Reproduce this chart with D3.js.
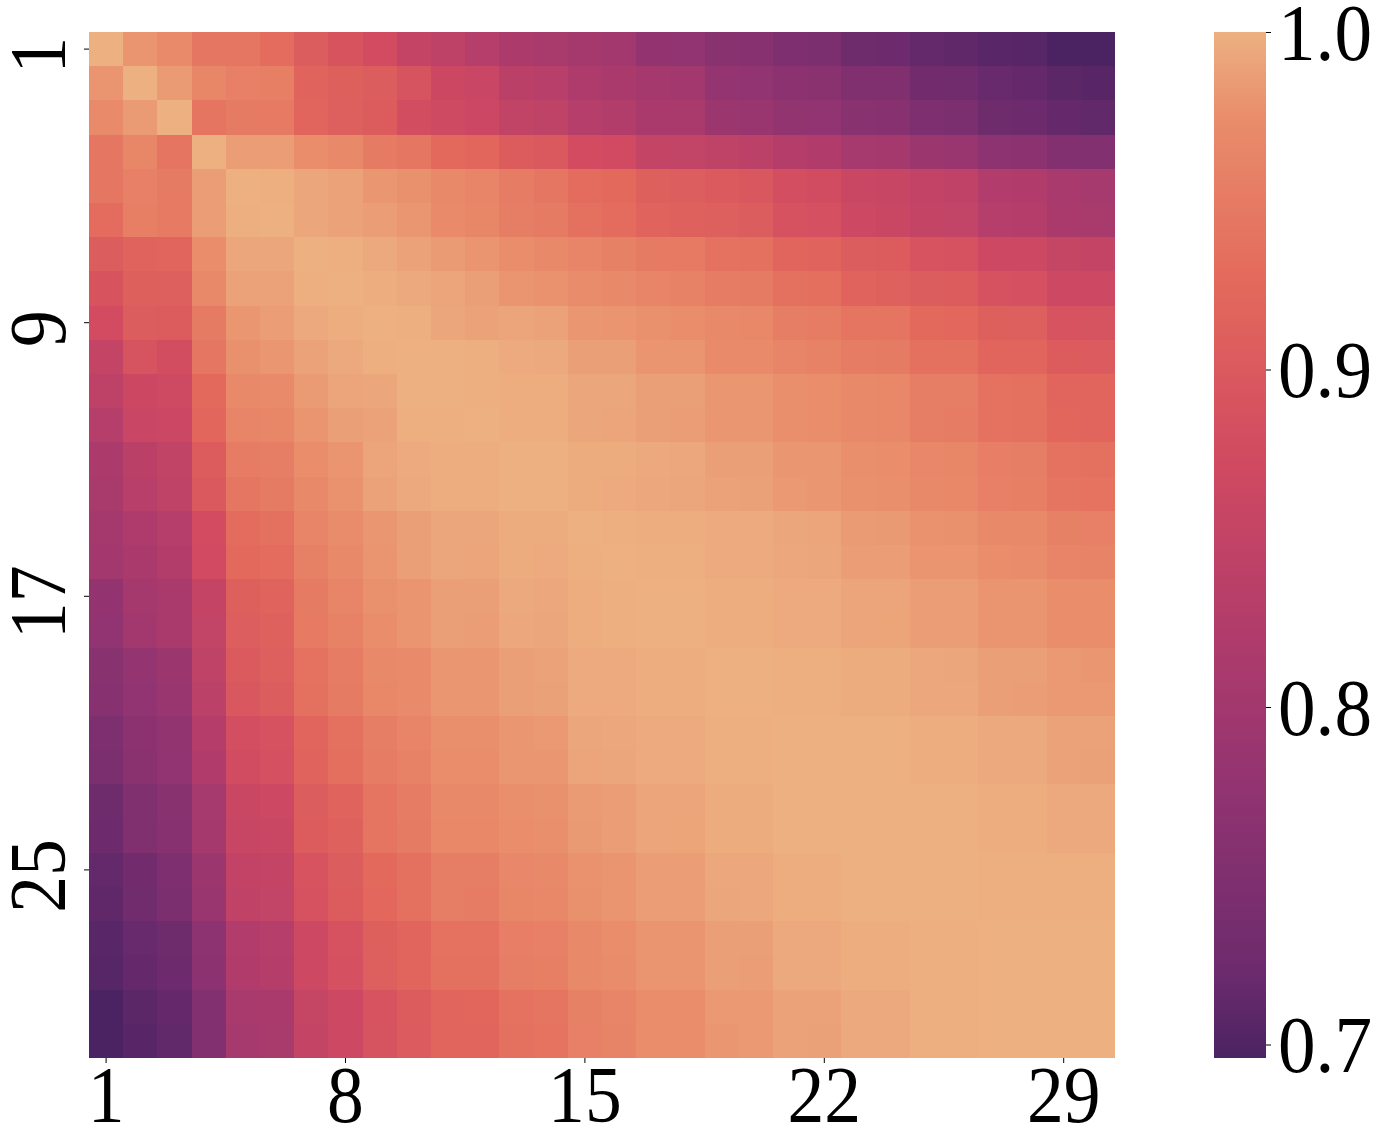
<!DOCTYPE html>
<html>
<head>
<meta charset="utf-8">
<style>
html,body{margin:0;padding:0;background:#fff;overflow:hidden}
text{font-family:"Liberation Serif","Times New Roman",serif;fill:#000}
</style>
<script src="https://cdn.jsdelivr.net/npm/d3@7/dist/d3.min.js"></script>
</head>
<body>
<svg id="chart" width="1384" height="1129"></svg>
<script>
// Upper triangle of the symmetric matrix: each row starts at its diagonal cell.
const row01=[1,.98,.972,.945,.943,.93,.905,.89,.875,.852,.843,.83,.815,.81,.805,.80,.778,.776,.764,.762,.747,.745,.726,.723,.715,.712,.707,.705,.696,.696];
const row02=[1,.985,.965,.957,.955,.915,.91,.905,.888,.866,.86,.838,.833,.818,.812,.805,.80,.78,.775,.767,.765,.752,.75,.73,.728,.718,.716,.708,.706];
const row03=[1,.94,.95,.948,.917,.908,.903,.878,.868,.864,.848,.845,.83,.826,.814,.812,.79,.787,.777,.775,.763,.76,.746,.744,.725,.723,.716,.714];
const row04=[1,.987,.986,.975,.97,.95,.945,.925,.92,.903,.898,.875,.873,.853,.85,.845,.84,.827,.823,.807,.805,.79,.787,.769,.767,.755,.753];
const row05=[1,.999,.993,.99,.982,.977,.97,.963,.952,.945,.93,.925,.91,.907,.9,.897,.88,.877,.861,.858,.849,.846,.824,.822,.809,.806];
const row06=[1,.993,.99,.986,.982,.972,.966,.953,.95,.935,.93,.915,.913,.908,.905,.887,.884,.865,.862,.853,.85,.83,.828,.813,.81];
const row07=[1,.999,.995,.99,.985,.98,.975,.97,.962,.958,.95,.948,.937,.935,.918,.916,.905,.903,.889,.886,.867,.865,.854,.852];
const row08=[1,.998,.995,.992,.988,.98,.978,.973,.97,.962,.96,.952,.95,.935,.933,.915,.913,.905,.903,.886,.884,.867,.865];
const row09=[1,.999,.993,.99,.992,.99,.982,.98,.977,.975,.97,.968,.953,.952,.942,.94,.925,.923,.91,.908,.889,.888];
const row10=[1,1,.999,.996,.995,.988,.988,.98,.98,.972,.972,.962,.96,.952,.95,.935,.935,.918,.917,.903,.902];
const row11=[1,.999,.998,.998,.993,.993,.988,.988,.982,.982,.976,.975,.97,.968,.953,.953,.938,.936,.918,.917];
const row12=[1,.998,.998,.993,.992,.988,.987,.982,.981,.976,.975,.969,.968,.953,.952,.938,.936,.92,.918];
const row13=[1,1,.997,.997,.995,.994,.988,.988,.982,.982,.976,.975,.967,.966,.954,.953,.937,.936];
const row14=[1,.997,.996,.994,.993,.99,.989,.983,.982,.977,.976,.969,.968,.957,.956,.94,.939];
const row15=[1,.999,.998,.998,.996,.996,.993,.992,.985,.984,.978,.977,.97,.97,.958,.957];
const row16=[1,.999,.999,.996,.996,.994,.993,.986,.986,.98,.98,.974,.973,.962,.961];
const row17=[1,1,.998,.998,.996,.996,.992,.992,.987,.986,.98,.98,.975,.974];
const row18=[1,.998,.998,.996,.996,.992,.991,.986,.986,.98,.98,.975,.975];
const row19=[1,1,.999,.999,.997,.997,.994,.993,.988,.988,.983,.982];
const row20=[1,.999,.999,.997,.997,.994,.994,.988,.987,.983,.983];
const row21=[1,1,1,1,.998,.998,.995,.995,.99,.99];
const row22=[1,1,1,.998,.998,.995,.995,.99,.989];
const row23=[1,1,1,1,.998,.998,.995,.995];
const row24=[1,1,1,.998,.998,.995,.995];
const row25=[1,1,.999,.999,.999,.999];
const row26=[1,.999,.999,.999,.999];
const row27=[1,1,1,1];
const row28=[1,1,1];
const row29=[1,1];
const row30=[1];
const upperRows=[row01,row02,row03,row04,row05,row06,row07,row08,row09,row10,row11,row12,row13,row14,row15,row16,row17,row18,row19,row20,row21,row22,row23,row24,row25,row26,row27,row28,row29,row30];

const categories=d3.range(1,31);
const xTickValues=[1,8,15,22,29];
const yTickValues=[1,9,17,25];
const colorbarTicks=[0.7,0.8,0.9,1.0];
const valueMin=0.696, valueMax=1.0;
const flareColors=["#edb081","#e98d6b","#e3685c","#d14a61","#b13c6b","#8f3371","#6c2b6d","#4b2362"];
const flarePositions=[0,1/12,1/4,5/12,7/12,3/4,11/12,1];

const svg=d3.select("#chart");
const left=89,right=1115,top_=32,bottom=1058;
const barLeft=1214,barRight=1266;
const fontSize=80;
const squeeze=0.92;

const x=d3.scaleBand().domain(categories).range([left,right]).padding(0);
const y=d3.scaleBand().domain(categories).range([top_,bottom]).padding(0);
const position=d3.scaleLinear().domain([valueMax,valueMin]).range([0,1]);
const color=d3.scaleLinear().domain(flarePositions).range(flareColors).interpolate(d3.interpolateRgb);
const fill=v=>color(position(v));
const barY=d3.scaleLinear().domain([valueMin,valueMax]).range([bottom,top_]);

const cells=[];
upperRows.forEach((vals,i)=>vals.forEach((v,k)=>{
  const j=i+k;
  cells.push({r:categories[i],c:categories[j],v});
  if(k>0) cells.push({r:categories[j],c:categories[i],v});
}));

svg.append("g").selectAll("rect").data(cells).join("rect")
  .attr("x",d=>x(d.c)).attr("y",d=>y(d.r))
  .attr("width",x.bandwidth()+0.4).attr("height",y.bandwidth()+0.4)
  .attr("shape-rendering","crispEdges")
  .attr("fill",d=>fill(d.v));

// x axis
const gx=svg.append("g").attr("transform",`translate(0,${bottom})`)
  .call(d3.axisBottom(x).tickValues(xTickValues).tickSize(5).tickSizeOuter(0));
gx.select(".domain").remove();
gx.selectAll("text").attr("font-size",fontSize).attr("y",64).attr("dy",0).attr("text-anchor","middle")
  .attr("transform",`scale(${squeeze},1)`)
  .style("font-family",'"Liberation Serif"');

// y axis with rotated labels
const gy=svg.append("g").attr("transform",`translate(${left},0)`)
  .call(d3.axisLeft(y).tickValues(yTickValues).tickSize(5).tickSizeOuter(0));
gy.select(".domain").remove();
gy.selectAll("text").attr("font-size",fontSize).attr("x",null).attr("dy",null)
  .attr("text-anchor","middle")
  .attr("transform",`translate(-24,6) rotate(-90) scale(${squeeze},1)`)
  .style("font-family",'"Liberation Serif"');

// colorbar
const defs=svg.append("defs");
const grad=defs.append("linearGradient").attr("id","flareBar").attr("x1",0).attr("x2",0).attr("y1",0).attr("y2",1);
grad.selectAll("stop").data(flarePositions).join("stop")
  .attr("offset",d=>d).attr("stop-color",(d,i)=>flareColors[i]);
svg.append("rect").attr("x",barLeft).attr("y",top_).attr("width",barRight-barLeft).attr("height",bottom-top_)
  .attr("fill","url(#flareBar)");
const gb=svg.append("g").attr("transform",`translate(${barRight},0)`)
  .call(d3.axisRight(barY).tickValues(colorbarTicks).tickFormat(d3.format(".1f")).tickSize(5).tickSizeOuter(0));
gb.select(".domain").remove();
gb.selectAll("text").attr("font-size",fontSize).attr("x",0).attr("dy",27)
  .attr("transform",`translate(12,0) scale(${squeeze+0.02},1)`)
  .style("font-family",'"Liberation Serif"');
</script>
</body>
</html>
